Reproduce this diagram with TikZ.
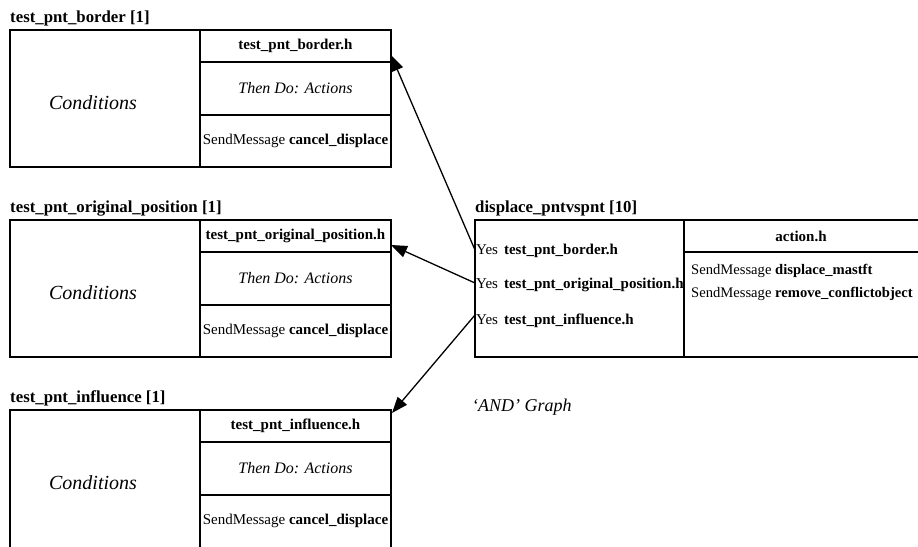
\documentclass[tikz,border=0pt]{standalone}
\usepackage{fontspec}
\setmainfont{Liberation Serif}
\usetikzlibrary{arrows.meta,calc}
\newcommand{\rulebox}[5]{%
  \node[ttl] (#1t) at (10,#2-8) {#3};
  \node[frame,minimum width=190,minimum height=#5,anchor=north west] (#1c) at (10,#2) {};
  \node[frame,minimum width=191,minimum height=32,anchor=north west] (#1h) at (200,#2) {};
  \node[frame,minimum width=191,minimum height=53,anchor=north west] (#1m) at (200,#2+32) {};
  \node[frame,minimum width=191,minimum height=#5-85,anchor=north west] (#1b) at (200,#2+85) {};
  \node[cond] (#1ct) at (93,#2+73) {Conditions};
  \node[txt,font=\fontsize{15}{17}\selectfont\bfseries] (#1ht) at (#1h) {#4};
  \node[act] (#1mt) at (#1m) {Then Do: Actions};
  \node[txt] (#1bt) at ($(#1b.north)+(0,26)$) {SendMessage \textbf{cancel\_displace}};
}
\begin{document}
\begin{tikzpicture}[x=1pt,y=-1pt,
  frame/.style={draw,line width=1.2pt,inner sep=0pt,outer sep=0pt},
  ttl/.style={anchor=base west,font=\fontsize{16.8}{18}\selectfont\bfseries,inner sep=0pt},
  txt/.style={font=\fontsize{15}{17}\selectfont,inner sep=0pt},
  rtxt/.style={font=\fontsize{14.6}{17}\selectfont,inner sep=0pt,anchor=west},
  cond/.style={font=\fontsize{20}{22}\selectfont\itshape,inner sep=0pt},
  act/.style={font=\fontsize{16}{18}\selectfont\itshape,inner sep=0pt},
  conn/.style={line width=1.3pt,-{Triangle[length=16pt,width=12pt]}}]
\useasboundingbox (0,0) rectangle (918,546);
\clip (0,0) rectangle (918,546);

\rulebox{a}{30}{test\_pnt\_border [1]}{test\_pnt\_border.h}{137}
\rulebox{b}{220}{test\_pnt\_original\_position [1]}{test\_pnt\_original\_position.h}{137}
\rulebox{c}{410}{test\_pnt\_influence [1]}{test\_pnt\_influence.h}{145}

% right rule box
\node[ttl] (dt) at (475,212) {displace\_pntvspnt [10]};
\node[frame,minimum width=209,minimum height=137,anchor=north west] (rl) at (475,220) {};
\node[frame,minimum width=236,minimum height=32,anchor=north west] (rh) at (684,220) {};
\node[frame,minimum width=236,minimum height=105,anchor=north west] (rb) at (684,252) {};
\node[txt,font=\fontsize{15}{17}\selectfont\bfseries] (rht) at (801,236) {action.h};
\node[txt,anchor=west] (y1) at (476,251) {Yes\hspace{6pt}\textbf{test\_pnt\_border.h}};
\node[txt,anchor=west] (y2) at (476,285) {Yes\hspace{6pt}\textbf{test\_pnt\_original\_position.h}};
\node[txt,anchor=west] (y3) at (476,321) {Yes\hspace{6pt}\textbf{test\_pnt\_influence.h}};
\node[rtxt] (s1) at (691,271) {SendMessage \textbf{displace\_mastft}};
\node[rtxt] (s2) at (691,294) {SendMessage \textbf{remove\_conflictobject}};

\node[font=\fontsize{18}{20}\selectfont\itshape,anchor=west,inner sep=0pt] (and) at (472,407) {`AND' Graph};

% connectors
\draw[conn] ([yshift=1pt]rl.west |- y1.west) -- ([yshift=-9pt]ah.east);
\draw[conn] ([yshift=2pt]rl.west |- y2.west) -- ([yshift=-9pt]bh.east);
\draw[conn] ([yshift=6pt]rl.west |- y3.west) -- ([shift={(1pt,-3pt)}]ch.north east);
\end{tikzpicture}
\end{document}
